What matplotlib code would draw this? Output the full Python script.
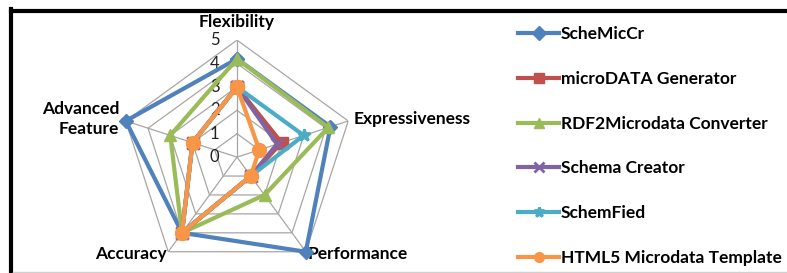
import numpy as np
import matplotlib
matplotlib.use('Agg')
from matplotlib import pyplot as plt
from matplotlib.lines import Line2D

plt.rcParams['font.family'] = ['Lato', 'DejaVu Sans']

# radar axes, clockwise from the top
categories = ['Flexibility', 'Expressiveness', 'Performance', 'Accuracy', 'Advanced\nFeature']
tools = ['ScheMicCr', 'microDATA Generator', 'RDF2Microdata Converter',
         'Schema Creator', 'SchemFied', 'HTML5 Microdata Template']
schemiccr = [4.2, 4.2, 5, 4, 5]
microdata_gen = [3, 2, 1, 4, 2]
rdf2microdata = [4.2, 4.1, 2, 4, 3]
schema_creator = [3, 1.8, 1, 4, 2]
schemfied = [3, 3, 1, 4, 2]
html5_template = [3, 1, 1, 4, 2]
levels = [0, 1, 2, 3, 4, 5]

series = [schemiccr, microdata_gen, rdf2microdata, schema_creator, schemfied, html5_template]
colors = ['#4F81BD', '#C0504D', '#9BBB59', '#8064A2', '#4BACC6', '#F79646']
markers = ['D', 's', '^', 'x', '*', 'o']
msizes = [7, 9, 9, 8, 9, 10]

fig = plt.figure(figsize=(7.87, 2.73), dpi=100)
ax = fig.add_axes([0.1525, -0.004, 0.2973, 0.857], projection='polar')
ax.set_theta_zero_location('N')
ax.set_theta_direction(-1)
ax.set_ylim(0, 5)
ax.grid(False)
ax.set_xticks([])
ax.set_yticks([])
ax.spines['polar'].set_visible(False)
ax.patch.set_visible(False)

n = len(categories)
ang = np.linspace(0, 2 * np.pi, n, endpoint=False)
ang_c = np.append(ang, ang[0])

# pentagon web
for lv in levels[1:]:
    ax.plot(ang_c, [lv] * (n + 1), color='#a6a6a6', lw=0.9, zorder=1)
for a in ang:
    ax.plot([a, a], [0, 5], color='#a6a6a6', lw=0.9, zorder=1)

for lv in levels:
    ax.annotate(str(lv), xy=(0, lv), xytext=(-16, 0), textcoords='offset points',
                ha='center', va='center', fontsize=12, color='#222222')

# category labels
lab_pos = [(0, 5.45, 'center', 'bottom'), (ang[1], 5.25, 'left', 'center'),
           (ang[2], 5.1, 'left', 'center'), (ang[3], 5.1, 'right', 'center'),
           (ang[4], 5.3, 'right', 'center')]
for cat, (a, r, ha, va) in zip(categories, lab_pos):
    ax.text(a, r, cat, ha=ha, va=va, fontsize=12.5, fontweight='bold',
            linespacing=1.3, clip_on=False)

for vals, name, c, m, ms in zip(series, tools, colors, markers, msizes):
    v = list(vals) + [vals[0]]
    ax.plot(ang_c, v, color=c, lw=3, marker=m, ms=ms, mew=2 if m in 'x*' else 1,
            mec=c, mfc=c, label=name, zorder=3, clip_on=False)

handles, labels = ax.get_legend_handles_labels()
leg = fig.legend(handles, labels, loc='upper left', bbox_to_anchor=(0.638, 0.962),
                 frameon=False, handlelength=2.4, handletextpad=0.1,
                 labelspacing=1.66, prop={'weight': 'bold', 'size': 12.5})
for h in leg.legend_handles:
    h.set_markersize(7)

# chart frame
fig.add_artist(Line2D([11 / 787, 1], [1 - 10.5 / 273] * 2, color='black', lw=3))
fig.add_artist(Line2D([11 / 787] * 2, [0, 1 - 8.5 / 273], color='black', lw=3))
fig.add_artist(Line2D([13 / 787, 1], [1.5 / 273] * 2, color='#d0d0d0', lw=1))

fig.savefig('out.png', dpi=100)
